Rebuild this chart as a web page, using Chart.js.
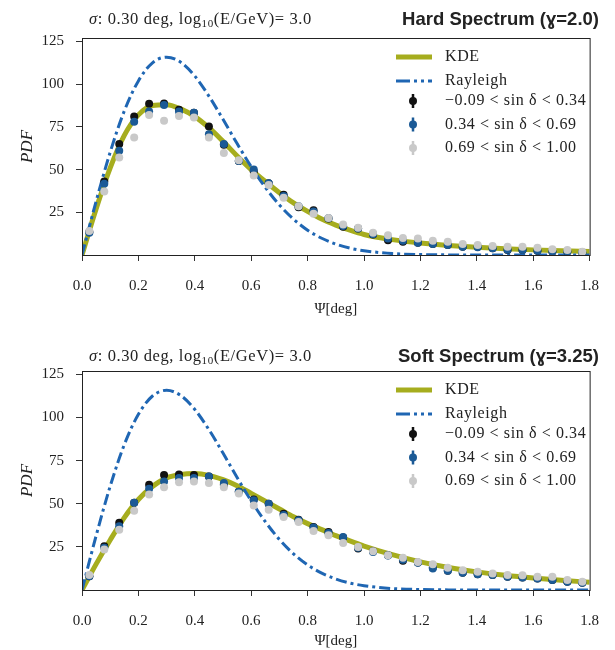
<!DOCTYPE html>
<html lang="en">
<head>
<meta charset="UTF-8">
<script src="https://cdn.jsdelivr.net/npm/chart.js@4/dist/chart.umd.min.js"></script>
<title>PDF panels</title>
<style>
  body { margin: 0; background: #fff; }
  .panel { position: absolute; left: 0; width: 615px; height: 325px; }
</style>
</head>
<body>
<div class="panel" style="top:0"><canvas id="hard" width="615" height="325"></canvas></div>
<div class="panel" style="top:325px"><canvas id="soft" width="615" height="325"></canvas></div>
<script>
// bin centres of the histogrammed points (34 bins over 0..1.8 deg)
var binCentres = [0.026,0.079,0.132,0.185,0.238,0.291,0.344,0.397,0.450,0.503,0.556,0.609,0.662,0.715,0.768,0.821,0.874,
                  0.926,0.979,1.032,1.085,1.138,1.191,1.244,1.297,1.350,1.403,1.456,1.509,1.562,1.615,1.668,1.721,1.774];

// x grid for the smooth curves
var curveX = [0,0.05,0.1,0.15,0.2,0.25,0.3,0.35,0.4,0.45,0.5,0.55,0.6,0.65,0.7,0.75,0.8,0.85,0.9,0.95,1.0,
              1.1,1.2,1.3,1.4,1.5,1.6,1.7,1.8];

var rayleigh = [0,31.4,60.2,84.3,101.9,112.5,115.8,112.8,104.7,93.0,79.4,65.2,51.7,39.6,29.3,21.0,14.5,9.8,6.4,4.0,2.5,
                0.84,0.26,0.07,0.02,0,0,0,0];

// hard spectrum
var hardKde = [0,27,51,70,82,87.5,88,85.5,81,74.5,66.5,58,50,43,36.5,30.5,25.5,21,17.5,14.5,12,
               9,7,5.6,4.5,3.7,3.0,2.5,2.0];
var hardLow = [13.5,43,65,81,88.5,88.7,85,83.3,75.2,64.5,55,48.8,42,35.3,28,26.2,21.3,16.5,15.5,12.0,8.7,7.8,7.2,6.4,
               5.8,4.8,4.8,3.9,2.9,2.9,2.5,1.9,1.9,1.4];
var hardMid = [13,41.7,61,78,84,87.8,84,83.3,70.7,65,55,50,42,34.5,28.5,25.5,21.5,17,15.5,12.2,9.7,8.3,7.2,6.4,
               5.8,4.8,4.6,3.9,3.0,2.9,2.5,2.0,1.9,1.5];
var hardHigh = [14,37.2,57,68.8,82,78.5,81.4,80.4,68.8,59.7,55.5,46.5,41,33.5,28.5,24.2,21.7,17.8,15.9,13,11.6,10,9.7,8.3,
                7.8,6.4,5.8,5.2,4.8,4.8,4.3,3.3,2.9,1.9];

// soft spectrum
var softKde = [0,15,29,42,52.5,60,65,67,67.5,66.5,64,60.5,56,51.5,47,42.5,38.5,35,31.5,28.5,25.5,
               20.5,16.3,13,10.5,8.5,6.9,5.6,4.5];
var softLow = [8,25.4,39,50.6,61,66.7,67,66.7,65.8,61,57,52.5,50,44.2,40.8,36.5,33.7,30.5,24,22.5,20.2,16.9,16,13.1,
               11.2,10,9.2,8.7,7.7,7.3,6.7,5.8,4.8,4.2];
var softMid = [8,24.5,37,50.6,58.7,62.9,65,65,65.8,62,57,52,50,43.5,40.4,36.2,33,30.8,24.5,22,20,17.5,15.8,12.5,
               11.2,10,9.2,8.7,7.7,7.3,6.7,5.8,4.8,4.2];
var softHigh = [8.7,23.5,35,46,55.4,59.6,62.5,62.9,62,59.6,56,49,46.5,42.3,39.4,34.2,31.7,27.3,25,22.5,20.2,18.7,16.3,15,
                12.9,11.5,10.6,9.6,8.7,8.5,7.7,7.7,5.8,4.8];

var xTicks = [0,0.2,0.4,0.6,0.8,1.0,1.2,1.4,1.6,1.8];
var yTicks = [25,50,75,100,125];
var binLabels = ['\u22120.09 < sin \u03b4 < 0.34', '0.34 < sin \u03b4 < 0.69', '0.69 < sin \u03b4 < 1.00'];

var OLIVE = '#a6ad1e', RAYBLUE = '#1f66b3', C_LOW = '#111111', C_MID = '#1b5a96', C_HIGH = '#c9c9c9';
var SERIF = '"Liberation Serif", "DejaVu Serif", serif';

function pairs(xs, ys) { return xs.map(function(x, i) { return {x: x, y: ys[i]}; }); }

// titles, frame, legend and y label drawn on the canvas
var decor = {
  id: 'decor',
  afterDraw: function(chart, args, opts) {
    var ctx = chart.ctx, a = chart.chartArea;
    ctx.save();
    ctx.strokeStyle = '#222'; ctx.lineWidth = 1;
    ctx.strokeRect(a.left + 0.5, a.top + 0.5, a.right - a.left, a.bottom - a.top);

    // left subtitle
    var ty = opts.titleY, x = 89;
    ctx.fillStyle = '#222'; ctx.textBaseline = 'middle'; ctx.textAlign = 'left';
    ctx.letterSpacing = '0.6px';
    ctx.font = 'italic 16.5px ' + SERIF; ctx.fillText('\u03c3', x, ty); x += ctx.measureText('\u03c3').width;
    ctx.font = '16.5px ' + SERIF; var s = ': 0.30 deg, log'; ctx.fillText(s, x, ty); x += ctx.measureText(s).width;
    ctx.font = '11px ' + SERIF; ctx.fillText('10', x, ty + 4); x += ctx.measureText('10').width;
    ctx.font = '16.5px ' + SERIF; ctx.fillText('(E/GeV)= 3.0', x, ty);
    ctx.letterSpacing = '0px';

    // right title
    ctx.font = 'bold 18.5px "Liberation Sans", Arial, sans-serif'; ctx.textAlign = 'right';
    ctx.fillText(opts.title, 599, ty);

    // y label
    ctx.save();
    ctx.translate(28, (a.top + a.bottom) / 2); ctx.rotate(-Math.PI / 2);
    ctx.textAlign = 'center'; ctx.font = 'italic 17px ' + SERIF;
    ctx.fillText('PDF', 0, 0);
    ctx.restore();

    // legend
    var lx = 396, tx = 445, rows = [19, 43, 63, 86.5, 110];
    ctx.textAlign = 'left'; ctx.font = '16px ' + SERIF; ctx.letterSpacing = '0.6px';
    ctx.lineCap = 'butt';
    var ly = a.top + rows[0];
    ctx.strokeStyle = OLIVE; ctx.lineWidth = 5;
    ctx.beginPath(); ctx.moveTo(lx, ly); ctx.lineTo(lx + 36, ly); ctx.stroke();
    ctx.fillStyle = '#222'; ctx.fillText('KDE', tx, ly);
    ly = a.top + rows[1];
    ctx.strokeStyle = RAYBLUE; ctx.lineWidth = 3; ctx.setLineDash([14, 4, 3, 4, 3, 4]);
    ctx.beginPath(); ctx.moveTo(lx, ly); ctx.lineTo(lx + 36, ly); ctx.stroke();
    ctx.setLineDash([]);
    ctx.fillText('Rayleigh', tx, ly);
    [C_LOW, C_MID, C_HIGH].forEach(function(c, i) {
      ly = a.top + rows[2 + i];
      ctx.strokeStyle = c; ctx.fillStyle = c; ctx.lineWidth = 2.5;
      ctx.beginPath(); ctx.moveTo(lx + 17, ly - 7); ctx.lineTo(lx + 17, ly + 7); ctx.stroke();
      ctx.beginPath(); ctx.arc(lx + 17, ly, 4, 0, Math.PI * 2); ctx.fill();
      ctx.fillStyle = '#222'; ctx.fillText(binLabels[i], tx, ly);
    });
    ctx.restore();
  }
};

function makePanel(id, title, kde, low, mid, high, padTop, padBottom, xHeight, titleY) {
  var tickFont = {family: SERIF, size: 15};
  return new Chart(document.getElementById(id), {
    type: 'scatter',
    data: {
      datasets: [
        {label: binLabels[2], data: pairs(binCentres, high), pointRadius: 4, pointBackgroundColor: C_HIGH, pointBorderWidth: 0},
        {label: binLabels[1], data: pairs(binCentres, mid), pointRadius: 4, pointBackgroundColor: C_MID, pointBorderWidth: 0},
        {label: binLabels[0], data: pairs(binCentres, low), pointRadius: 4, pointBackgroundColor: C_LOW, pointBorderWidth: 0},
        {label: 'Rayleigh', data: pairs(curveX, rayleigh), showLine: true, pointRadius: 0, borderColor: RAYBLUE,
         borderWidth: 3, borderDash: [11, 4, 3, 4], cubicInterpolationMode: 'monotone'},
        {label: 'KDE', data: pairs(curveX, kde), showLine: true, pointRadius: 0, borderColor: OLIVE,
         borderWidth: 5, cubicInterpolationMode: 'monotone'}
      ]
    },
    options: {
      responsive: false,
      animation: false,
      layout: {padding: {top: padTop, right: 12, left: 0, bottom: padBottom}},
      plugins: {legend: {display: false}, tooltip: {enabled: false}, decor: {title: title, titleY: titleY}},
      scales: {
        x: {
          type: 'linear', min: 0, max: 1.8,
          afterBuildTicks: function(s) { s.ticks = xTicks.map(function(v) { return {value: v}; }); },
          ticks: {callback: function(v) { return v.toFixed(1); }, font: tickFont, color: '#222', padding: 16, maxRotation: 0},
          grid: {drawOnChartArea: false, tickLength: 6, color: '#333'},
          border: {color: '#222'},
          title: {display: true, text: '\u03a8[deg]', font: tickFont, color: '#222', padding: {top: 0, bottom: 0}},
          afterFit: function(s) { s.height = xHeight; }
        },
        y: {
          min: 0, max: 127,
          afterBuildTicks: function(s) { s.ticks = yTicks.map(function(v) { return {value: v}; }); },
          ticks: {font: tickFont, color: '#222', padding: 12},
          grid: {drawOnChartArea: false, tickLength: 6, color: '#333'},
          border: {color: '#222'},
          afterFit: function(s) { s.width = 82; }
        }
      }
    },
    plugins: [decor]
  });
}

makePanel('hard', 'Hard Spectrum (\u0263=2.0)', hardKde, hardLow, hardMid, hardHigh, 38, 7, 63, 20);
makePanel('soft', 'Soft Spectrum (\u0263=3.25)', softKde, softLow, softMid, softHigh, 46, 0, 60, 32);
</script>
</body>
</html>
